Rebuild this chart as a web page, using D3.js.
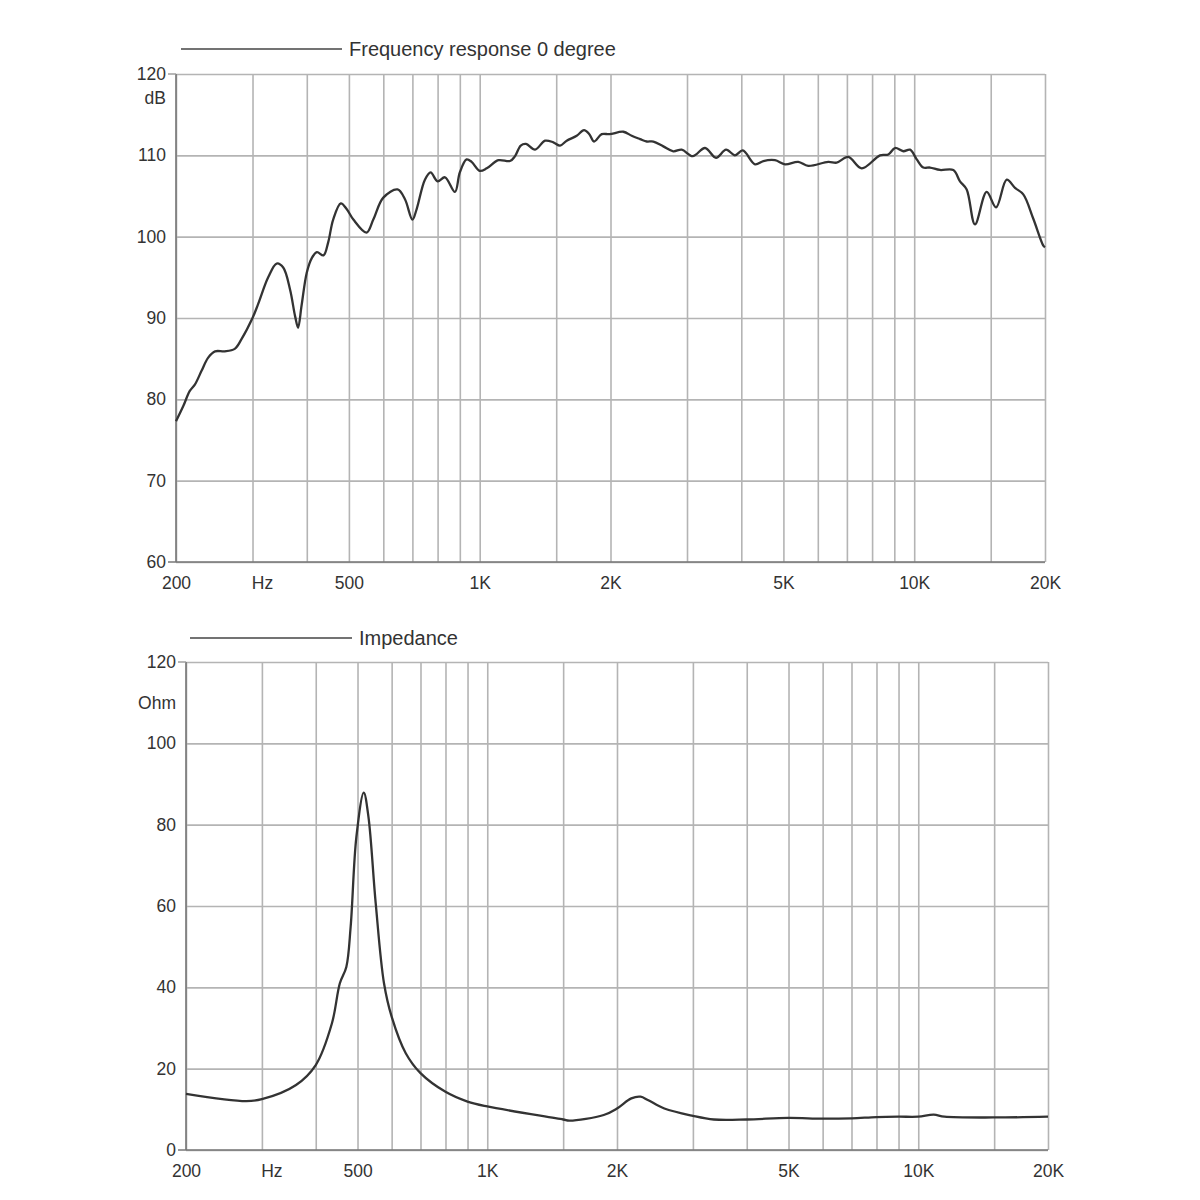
<!DOCTYPE html>
<html>
<head>
<meta charset="utf-8">
<script src="https://cdn.jsdelivr.net/npm/d3@7"></script>
<style>
  html, body { margin: 0; padding: 0; background: #fff; }
  svg { display: block; }
  text { font-family: "Liberation Sans", Arial, sans-serif; fill: #333; }
</style>
</head>
<body>
<svg id="chart" width="1200" height="1200"></svg>
<script>
// ---------- DATA ----------
const gridFreqs = [200, 300, 400, 500, 600, 700, 800, 900, 1000, 1500, 2000, 3000, 4000, 5000, 6000, 7000, 8000, 9000, 10000, 15000, 20000];
const xTickFreqs = [200, 500, 1000, 2000, 5000, 10000, 20000];
const xTickLabels = ["200", "500", "1K", "2K", "5K", "10K", "20K"];

const frTitle = "Frequency response 0 degree";
const frUnit = "dB";
const frTicks = [60, 70, 80, 90, 100, 110, 120];
const frHz = [200, 208, 215, 221, 229, 237, 246, 259, 273, 283, 300, 309, 326, 341, 353, 366, 376, 382, 389, 400, 411, 422, 437, 448, 460, 479, 494, 512, 549, 569, 600, 647, 673, 700, 716, 748, 771, 800, 832, 877, 900, 933, 958, 1000, 1038, 1104, 1174, 1206, 1243, 1278, 1341, 1414, 1477, 1531, 1586, 1672, 1738, 1788, 1833, 1909, 1990, 2141, 2238, 2339, 2424, 2510, 2646, 2790, 2917, 3092, 3301, 3498, 3690, 3868, 4031, 4303, 4496, 4782, 5042, 5409, 5704, 6342, 6630, 7053, 7572, 8343, 8718, 9034, 9441, 9782, 10135, 10495, 10873, 11464, 12303, 12746, 13206, 13800, 14681, 15430, 16326, 17060, 17826, 18798, 19821, 20000];
const frDb = [77.3, 79.2, 81.0, 81.8, 83.5, 85.1, 85.9, 85.9, 86.2, 87.4, 90.0, 91.7, 95.0, 96.7, 96.2, 93.5, 90.2, 88.8, 91.5, 95.6, 97.4, 98.1, 97.7, 99.3, 102.1, 104.1, 103.4, 102.1, 100.5, 102.1, 104.8, 105.8, 104.6, 102.1, 103.4, 107.0, 107.9, 106.8, 107.3, 105.5, 107.9, 109.5, 109.2, 108.1, 108.4, 109.4, 109.3, 109.9, 111.2, 111.4, 110.7, 111.8, 111.6, 111.2, 111.8, 112.4, 113.1, 112.6, 111.7, 112.6, 112.6, 112.9, 112.4, 112.0, 111.7, 111.7, 111.1, 110.5, 110.7, 109.9, 110.9, 109.7, 110.7, 110.0, 110.6, 108.9, 109.3, 109.4, 108.9, 109.2, 108.7, 109.2, 109.1, 109.8, 108.4, 110.0, 110.1, 110.9, 110.5, 110.7, 109.5, 108.5, 108.5, 108.2, 108.2, 106.8, 105.8, 101.5, 105.5, 103.6, 107.0, 106.0, 105.2, 102.2, 98.9, 98.7];

const impTitle = "Impedance";
const impUnit = "Ohm";
const impTicks = [0, 20, 40, 60, 80, 100, 120];
const impHz = [200, 276, 300, 360, 400, 436, 455, 471, 482, 497, 517, 530, 551, 576, 600, 647, 700, 800, 900, 1000, 1500, 1550, 1863, 2000, 2159, 2269, 2358, 2576, 3000, 3355, 4000, 5000, 6000, 7000, 8000, 9000, 10000, 10860, 11500, 15000, 20000];
const impOhm = [13.8, 12.0, 12.5, 16.0, 20.9, 31.1, 41.0, 45.0, 54.9, 77.0, 87.9, 82.0, 60.7, 41.0, 32.8, 23.8, 18.9, 14.3, 11.9, 10.7, 7.5, 7.2, 8.6, 10.2, 12.7, 13.1, 12.3, 10.2, 8.4, 7.5, 7.5, 7.9, 7.7, 7.8, 8.1, 8.2, 8.2, 8.7, 8.2, 8.0, 8.2];

// ---------- DRAW ----------
const svg = d3.select("#chart");
const FONT = '"Liberation Sans", Arial, sans-serif';
const TICK_FS = 17.5;

function drawPanel(cfg) {
  const { left, right, top, bottom, yDomain, yTicks, unit, title, legend, hz, vals } = cfg;
  const x = d3.scaleLog().domain([200, 20000]).range([left, right]);
  const y = d3.scaleLinear().domain(yDomain).range([bottom, top]);
  const g = svg.append("g");

  // vertical grid
  g.append("g")
    .attr("transform", `translate(0,${bottom})`)
    .call(d3.axisBottom(x).tickValues(gridFreqs).tickSize(-(bottom - top)).tickFormat(""))
    .call(s => s.select(".domain").remove())
    .call(s => s.selectAll(".tick line").attr("stroke", "#b4b4b4").attr("stroke-width", 1.6));

  // horizontal grid
  g.append("g")
    .attr("transform", `translate(${left},0)`)
    .call(d3.axisLeft(y).tickValues(yTicks).tickSize(-(right - left)).tickFormat(""))
    .call(s => s.select(".domain").remove())
    .call(s => s.selectAll(".tick line").attr("stroke", "#b4b4b4").attr("stroke-width", 1.6));

  // frame: left and bottom darker
  g.append("line").attr("x1", left).attr("x2", left).attr("y1", top).attr("y2", bottom)
    .attr("stroke", "#777").attr("stroke-width", 1.6);
  g.append("line").attr("x1", left - 8).attr("x2", right).attr("y1", bottom).attr("y2", bottom)
    .attr("stroke", "#777").attr("stroke-width", 1.6);
  g.append("line").attr("x1", left - 8).attr("x2", left).attr("y1", top).attr("y2", top)
    .attr("stroke", "#999").attr("stroke-width", 1.4);

  // y labels
  g.append("g")
    .attr("transform", `translate(${left},0)`)
    .call(d3.axisLeft(y).tickValues(yTicks).tickSize(0).tickPadding(10))
    .call(s => s.select(".domain").remove())
    .call(s => s.selectAll("text").attr("font-size", TICK_FS).attr("fill", "#333").style("font-family", FONT));
  g.append("text").attr("x", left - 10).attr("y", top + cfg.unitDy)
    .attr("text-anchor", "end").attr("font-size", TICK_FS).text(unit);

  // x labels
  g.append("g")
    .attr("transform", `translate(0,${bottom})`)
    .call(d3.axisBottom(x).tickValues(xTickFreqs).tickSize(0).tickPadding(15)
      .tickFormat((d, i) => xTickLabels[i]))
    .call(s => s.select(".domain").remove())
    .call(s => s.selectAll("text").attr("font-size", TICK_FS).attr("fill", "#333").style("font-family", FONT));
  g.append("text").attr("x", x(300) + 10).attr("y", bottom + 15).attr("dy", "0.71em")
    .attr("text-anchor", "middle").attr("font-size", TICK_FS).text("Hz");

  // legend
  g.append("line").attr("x1", legend.x1).attr("x2", legend.x2).attr("y1", legend.y).attr("y2", legend.y)
    .attr("stroke", "#444").attr("stroke-width", 1.6);
  g.append("text").attr("x", legend.x2 + 7).attr("y", legend.y + 7)
    .attr("font-size", 20).text(title);

  // curve
  const pts = hz.map((f, i) => [f, vals[i]]);
  g.append("path").datum(pts)
    .attr("fill", "none").attr("stroke", "#333").attr("stroke-width", 2.3)
    .attr("stroke-linejoin", "round")
    .attr("d", d3.line().x(d => x(d[0])).y(d => y(d[1])).curve(d3.curveCatmullRom.alpha(0.5)));
}

drawPanel({
  left: 176, right: 1045, top: 74, bottom: 562,
  yDomain: [60, 120], yTicks: frTicks, unit: frUnit, unitDy: 30,
  title: frTitle, legend: { x1: 181, x2: 342, y: 49 },
  hz: frHz, vals: frDb
});

drawPanel({
  left: 186, right: 1048, top: 662, bottom: 1150,
  yDomain: [0, 120], yTicks: impTicks, unit: impUnit, unitDy: 47,
  title: impTitle, legend: { x1: 190, x2: 352, y: 638 },
  hz: impHz, vals: impOhm
});
</script>
</body>
</html>
